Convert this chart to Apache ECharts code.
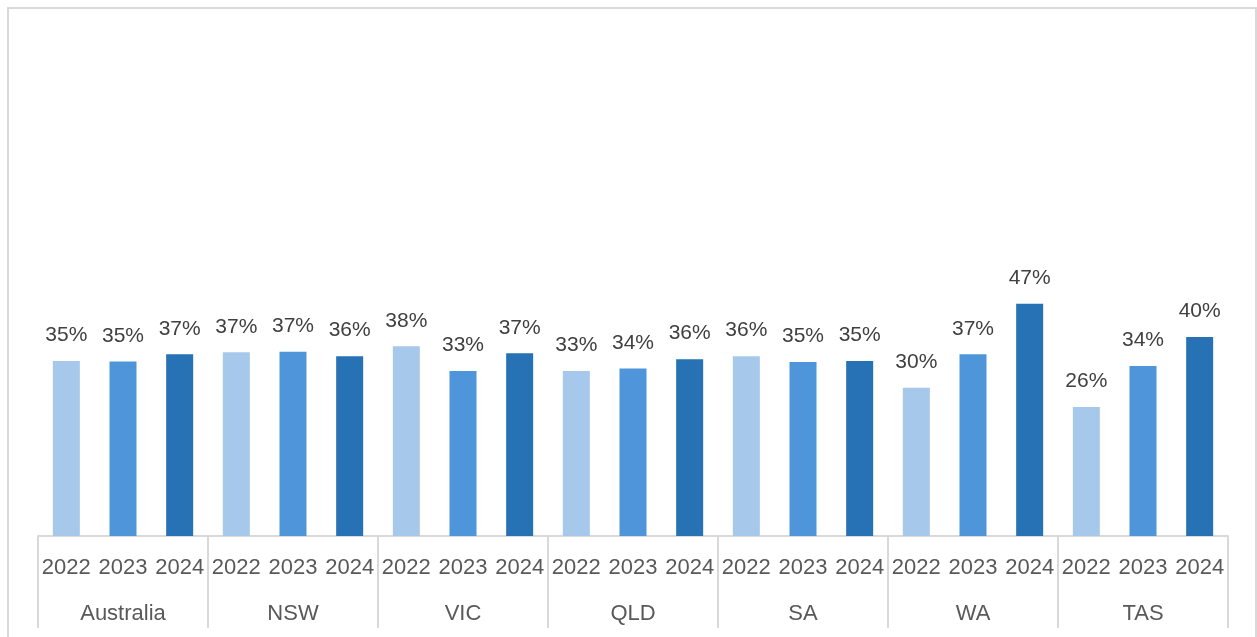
<!DOCTYPE html>
<html>
<head>
<meta charset="utf-8">
<script src="https://cdn.jsdelivr.net/npm/echarts@6/dist/echarts.min.js"></script>
<style>
html,body{margin:0;padding:0;background:#fff;}
#chart{width:1257px;height:637px;}
</style>
</head>
<body>
<div id="chart"></div>
<script>
const regions = ["Australia", "NSW", "VIC", "QLD", "SA", "WA", "TAS"];
const years = ["2022", "2023", "2024"];
const v2022 = [0.354, 0.372, 0.384, 0.334, 0.364, 0.300, 0.261];
const v2023 = [0.353, 0.373, 0.334, 0.339, 0.352, 0.368, 0.344];
const v2024 = [0.368, 0.364, 0.370, 0.358, 0.354, 0.470, 0.403];
const yearColors = ["#A5C8EB", "#4E95D9", "#2771B5"];

const byYear = [v2022, v2023, v2024];
const cats = [];
const data = [];
regions.forEach((r, i) => {
  years.forEach((y, j) => {
    cats.push(y);
    data.push({ value: byYear[j][i], itemStyle: { color: yearColors[j] } });
  });
});

const chart = echarts.init(document.getElementById('chart'));
chart.setOption({
  animation: false,
  backgroundColor: '#fff',
  graphic: [{
    type: 'rect',
    shape: { x: 8, y: 8, width: 1248, height: 700 },
    style: { fill: 'none', stroke: '#d9d9d9', lineWidth: 2 },
    silent: true, z: -1
  }],
  grid: { left: 38, right: 29, top: 42, bottom: 101, containLabel: false },
  xAxis: [{
    type: 'category',
    data: cats,
    position: 'bottom',
    axisLine: { show: true, lineStyle: { color: '#d9d9d9', width: 2 } },
    axisTick: { show: false },
    axisLabel: { interval: 0, margin: 21, color: '#595959', fontSize: 22, fontFamily: 'Liberation Sans, Arial, sans-serif' }
  }, {
    type: 'category',
    data: regions,
    position: 'bottom',
    axisLine: { show: false },
    axisTick: { show: true, length: 92, lineStyle: { color: '#d9d9d9', width: 2 } },
    axisLabel: { interval: 0, margin: 67, color: '#595959', fontSize: 22, fontFamily: 'Liberation Sans, Arial, sans-serif' }
  }],
  yAxis: {
    type: 'value', min: 0, max: 1, show: false,
    splitLine: { show: false }
  },
  series: [{
    type: 'bar',
    xAxisIndex: 0,
    data: data,
    barWidth: 27,
    label: {
      show: true,
      position: 'top',
      distance: 15,
      color: '#404040',
      fontSize: 21,
      fontFamily: 'Liberation Sans, Arial, sans-serif',
      formatter: p => Math.round(p.value * 100) + '%'
    }
  }]
});
</script>
</body>
</html>
